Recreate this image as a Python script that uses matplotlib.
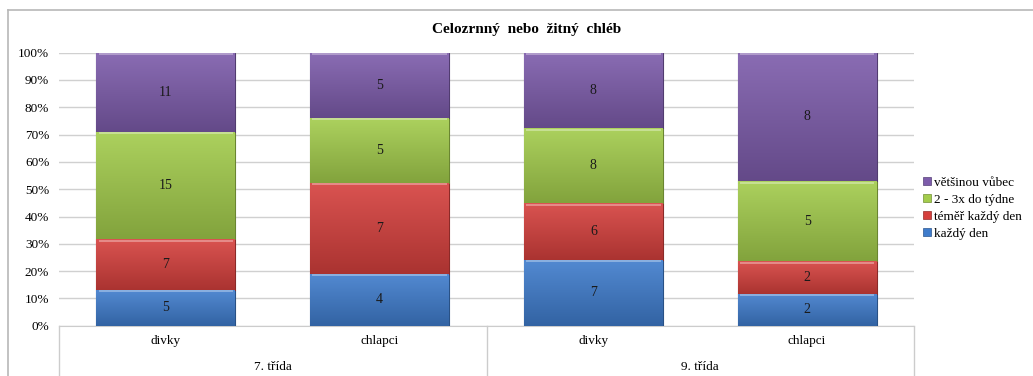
import numpy as np
import matplotlib
matplotlib.use("Agg")
import matplotlib.pyplot as plt
from matplotlib.colors import to_rgb
from matplotlib.lines import Line2D
from matplotlib.patches import Patch

plt.rcParams['font.family'] = ['Liberation Serif', 'DejaVu Serif']

title = 'Celozrnný  nebo  žitný  chléb'
bar_labels = ['divky', 'chlapci', 'divky', 'chlapci']
groups = ['7. třída', '9. třída']
series = ['každý den', 'téměř každý den', '2 - 3x do týdne', 'většinou vůbec']
counts = [
    [5, 4, 7, 2],    # každý den
    [7, 7, 6, 2],    # téměř každý den
    [15, 5, 8, 5],   # 2 - 3x do týdne
    [11, 5, 8, 8],   # většinou vůbec
]
colors = ['#3f7ccc', '#d5403d', '#a3cc4c', '#7d5cab']


def shade(c, f):
    r = np.array(to_rgb(c))
    if f >= 0:
        return tuple(r + (1 - r) * f)
    return tuple(r * (1 + f))


W, H = 1033, 376
fig = plt.figure(figsize=(W / 100, H / 100), dpi=100)
ax = fig.add_axes([59 / W, 1 - 325.7 / H, (914 - 59) / W, (325.7 - 52.7) / H])

data = np.array(counts, dtype=float)
pct = data / data.sum(axis=0) * 100
x = np.arange(len(bar_labels))
bottom = np.zeros(len(bar_labels))
width = 0.65

for i, name in enumerate(series):
    bars = ax.bar(x, pct[i], width, bottom=bottom, color=colors[i],
                  edgecolor=shade(colors[i], -0.35), linewidth=0.8, zorder=3)
    for b, n in zip(bars, data[i]):
        # vertical gradient over each segment
        grad = np.linspace(0, 1, 64)[:, None]
        top_c = np.array(shade(colors[i], 0.1))
        bot_c = np.array(shade(colors[i], -0.2))
        img = top_c * (1 - grad[..., None]) + bot_c * grad[..., None]
        x0, y0, w, h = b.get_x(), b.get_y(), b.get_width(), b.get_height()
        im = ax.imshow(img, extent=(x0, x0 + w, y0, y0 + h), origin='upper',
                       aspect='auto', zorder=3.5, interpolation='bilinear')
        im.set_clip_path(b)
        ax.plot([x0 + 0.01, x0 + w - 0.01], [y0 + h - 0.6, y0 + h - 0.6],
                color=shade(colors[i], 0.45), lw=1.2, zorder=4,
                solid_capstyle='butt')
        ax.text(x0 + w / 2, y0 + h / 2, f'{int(n)}', ha='center', va='center',
                fontsize=10, color='#1a1a1a', zorder=5)
    bottom += pct[i]

ax.set_xlim(-0.5, len(bar_labels) - 0.5)
ax.set_ylim(0, 100)
ax.set_yticks(np.arange(0, 101, 10))
ax.set_yticklabels([f'{v}%' for v in range(0, 101, 10)], fontsize=9.5)
ax.set_xticks([])
ax.tick_params(axis='y', length=0, pad=7)
ax.grid(axis='y', color='#d0d0d0', lw=1, zorder=0)
for s in ['top', 'right', 'left']:
    ax.spines[s].set_visible(False)
ax.spines['bottom'].set_color('#cccccc')
ax.set_axisbelow(True)

# category and group labels below the axis
ax_pos = ax.get_position()
for xi, lab in zip(x, bar_labels):
    fx = ax_pos.x0 + (xi + 0.5) / len(bar_labels) * ax_pos.width
    fig.text(fx, 1 - 341 / H, lab, ha='center', va='center', fontsize=9.5)
for gi, g in enumerate(groups):
    fx = ax_pos.x0 + (gi + 0.5) / len(groups) * ax_pos.width
    fig.text(fx, 1 - 367 / H, g, ha='center', va='center', fontsize=9.5)
for k in range(len(groups) + 1):
    fx = ax_pos.x0 + k / len(groups) * ax_pos.width
    fig.add_artist(Line2D([fx, fx], [0, ax_pos.y0], color='#cccccc', lw=1))

# chart area frame
fig.add_artist(Line2D([8 / W, 1], [1 - 10 / H, 1 - 10 / H], color='#b8b8b8', lw=1.2))
fig.add_artist(Line2D([8 / W, 8 / W], [0, 1 - 10 / H], color='#b8b8b8', lw=1.2))

fig.text(527 / W, 1 - 29 / H, title, ha='center', va='center',
         fontsize=11, fontweight='bold')

handles = [Patch(facecolor=colors[i], edgecolor=shade(colors[i], -0.3), lw=0.5)
           for i in range(len(series))][::-1]
fig.legend(handles, series[::-1], loc='center left',
           bbox_to_anchor=(918 / W, 1 - 208.5 / H), frameon=False, fontsize=9.5,
           handlelength=0.55, handleheight=0.55, handletextpad=0.25,
           labelspacing=0.38, borderaxespad=0)

fig.savefig('out.png', dpi=100)
